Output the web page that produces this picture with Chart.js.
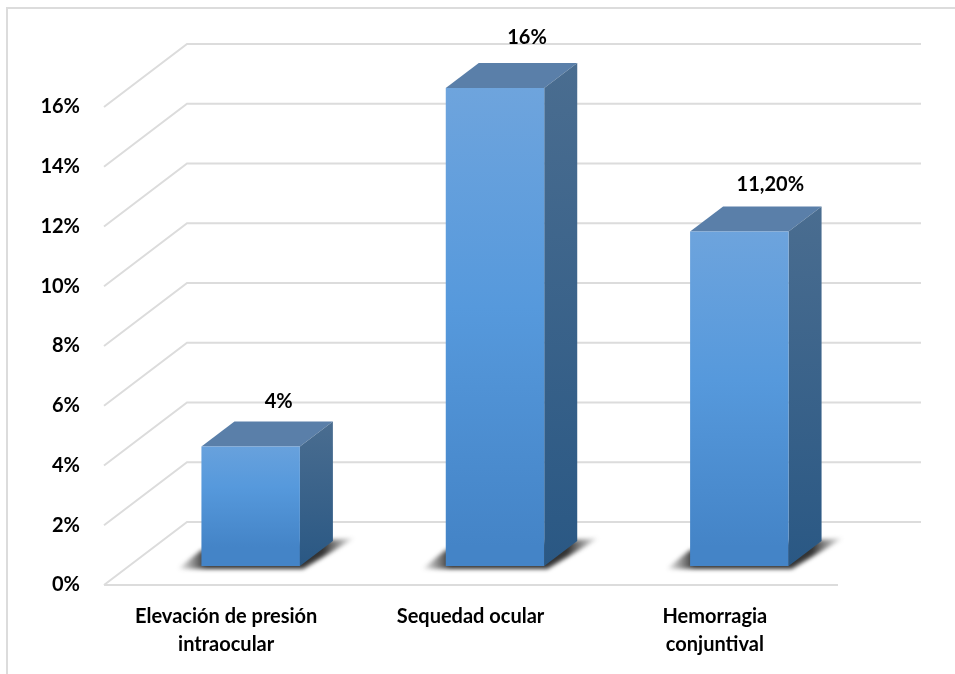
<!DOCTYPE html>
<html>
<head>
<meta charset="utf-8">
<script src="https://cdn.jsdelivr.net/npm/chart.js@4"></script>
<style>
  html, body { margin:0; padding:0; background:#fff; }
  #frame { position:absolute; left:6px; top:7px; width:949px; height:667px; border-top:2px solid #dcdcdc; border-left:2px solid #dcdcdc; box-sizing:border-box; }
  canvas { position:absolute; left:0; top:0; }
</style>
</head>
<body>
<div id="frame"></div>
<canvas id="chart" width="955" height="674"></canvas>
<script>
  const categories = [['Elevación de presión', 'intraocular'], 'Sequedad ocular', ['Hemorragia', 'conjuntival']];
  const values = [4, 16, 11.2];
  const valueLabels = ['4%', '16%', '11,20%'];

  // profundidad de las paredes y de las barras (px)
  const WALL_DX = 83, WALL_DY = 63;
  const BAR_SHIFT_X = 24.5, BAR_SHIFT_Y = -19;
  const BAR_DX = 33, BAR_DY = 25;
  const labelNudge = [[-3, 2], [1, -3], [0, 0]];

  const FONT = { family: 'Lato', weight: 'bold', size: 20 };

  function vGrad(ctx, top, bottom, c0, c1, c2) {
    const g = ctx.createLinearGradient(0, top, 0, bottom);
    g.addColorStop(0, c0);
    if (c2) { g.addColorStop(0.5, c1); g.addColorStop(1, c2); }
    else g.addColorStop(1, c1);
    return g;
  }

  // Paredes, suelo, sombra y caras laterales de cada barra
  const depthPlugin = {
    id: 'depth',
    beforeDatasetsDraw(chart) {
      const { ctx, chartArea: area, scales } = chart;
      ctx.save();
      ctx.strokeStyle = '#dcdcdc';
      ctx.lineWidth = 2;
      scales.y.ticks.forEach(t => {
        const y = scales.y.getPixelForValue(t.value);
        ctx.beginPath();
        ctx.moveTo(area.left, y);
        ctx.lineTo(area.left + WALL_DX, y - WALL_DY);
        ctx.lineTo(area.right + WALL_DX + 1, y - WALL_DY);
        ctx.stroke();
      });
      ctx.beginPath();
      ctx.moveTo(area.left, area.bottom);
      ctx.lineTo(area.right + 1, area.bottom);
      ctx.stroke();
      ctx.restore();

      chart.getDatasetMeta(0).data.forEach(bar => {
        const x0 = bar.x - bar.width / 2 + BAR_SHIFT_X;
        const x1 = bar.x + bar.width / 2 + BAR_SHIFT_X;
        const top = bar.y + BAR_SHIFT_Y;
        const bottom = bar.base + BAR_SHIFT_Y;

        // sombra sobre el suelo
        ctx.save();
        ctx.filter = 'blur(2px)';
        const shade = ctx.createLinearGradient(x0 - 24, 0, x1 + BAR_DX + 22, 0);
        shade.addColorStop(0, 'rgba(40,40,40,0)');
        shade.addColorStop(0.16, 'rgba(40,40,40,0.95)');
        shade.addColorStop(0.82, 'rgba(40,40,40,0.95)');
        shade.addColorStop(1, 'rgba(40,40,40,0)');
        ctx.fillStyle = shade;
        ctx.beginPath();
        ctx.moveTo(x0 - 24, bottom + 3);
        ctx.lineTo(x0, bottom - 16);
        ctx.lineTo(x1 + BAR_DX + 22, bottom - BAR_DY - 3);
        ctx.lineTo(x1 + 3, bottom + 3);
        ctx.closePath();
        ctx.fill();
        ctx.restore();

        // cara superior
        ctx.fillStyle = '#5a7fa9';
        ctx.beginPath();
        ctx.moveTo(x0, top);
        ctx.lineTo(x0 + BAR_DX, top - BAR_DY);
        ctx.lineTo(x1 + BAR_DX, top - BAR_DY);
        ctx.lineTo(x1, top);
        ctx.closePath();
        ctx.fill();

        // cara lateral
        ctx.fillStyle = vGrad(ctx, top - BAR_DY, bottom, '#4a6d90', '#2a5884');
        ctx.beginPath();
        ctx.moveTo(x1, top);
        ctx.lineTo(x1 + BAR_DX, top - BAR_DY);
        ctx.lineTo(x1 + BAR_DX, bottom - BAR_DY);
        ctx.lineTo(x1, bottom);
        ctx.closePath();
        ctx.fill();
      });

      // la cara frontal la dibuja la librería, desplazada hacia el fondo
      ctx.save();
      ctx.translate(BAR_SHIFT_X, BAR_SHIFT_Y);
    },
    afterDatasetsDraw(chart) {
      const { ctx } = chart;
      ctx.restore();

      ctx.save();
      ctx.font = `${FONT.weight} ${FONT.size}px ${FONT.family}`;
      ctx.fillStyle = '#000';
      ctx.textAlign = 'center';
      ctx.textBaseline = 'middle';
      chart.getDatasetMeta(0).data.forEach((bar, i) => {
        const lx = bar.x + BAR_SHIFT_X + 31 + labelNudge[i][0];
        const ly = bar.y + BAR_SHIFT_Y - 47 + labelNudge[i][1];
        ctx.fillText(valueLabels[i], lx, ly);
      });
      ctx.restore();
    }
  };

  new Chart(document.getElementById('chart'), {
    type: 'bar',
    data: {
      labels: categories,
      datasets: [{
        data: values,
        barPercentage: 0.403,
        categoryPercentage: 1,
        borderWidth: 0,
        backgroundColor(c) {
          const { chart, raw } = c;
          if (!chart.chartArea || raw == null) return '#5699dc';
          const y = chart.scales.y;
          return vGrad(chart.ctx, y.getPixelForValue(raw) + BAR_SHIFT_Y, y.getPixelForValue(0) + BAR_SHIFT_Y, '#70a5dd', '#5699dc', '#4484c7');
        }
      }]
    },
    plugins: [depthPlugin],
    options: {
      responsive: false,
      animation: false,
      layout: { padding: { top: 107, right: 118, left: 0, bottom: 0 } },
      plugins: { legend: { display: false }, tooltip: { enabled: false } },
      scales: {
        x: {
          afterFit(s) { s.height = 89; },
          grid: { display: false, drawTicks: false },
          border: { display: false },
          ticks: { color: '#000', font: { ...FONT, lineHeight: 1.4 }, padding: 18, maxRotation: 0, autoSkip: false }
        },
        y: {
          min: 0,
          max: 16,
          afterFit(s) { s.width = 104; },
          grid: { display: false, drawTicks: false },
          border: { display: false },
          ticks: { stepSize: 2, color: '#000', font: FONT, padding: 24, callback: v => v + '%' }
        }
      }
    }
  });
</script>
</body>
</html>
